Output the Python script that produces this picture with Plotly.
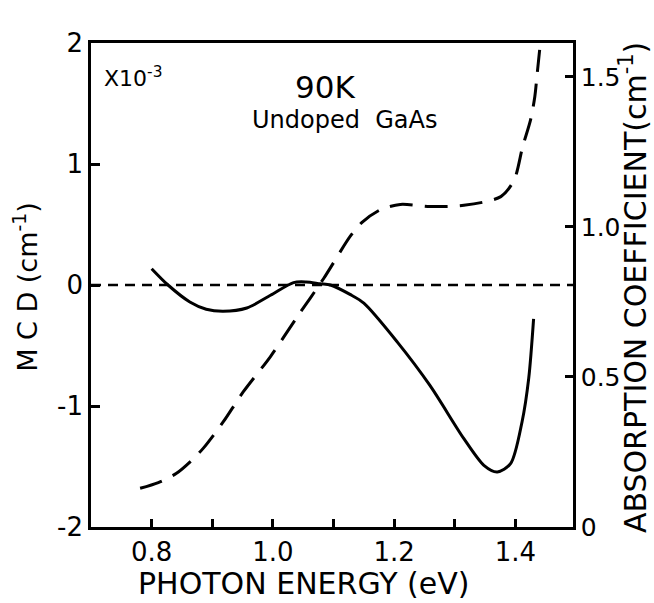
import plotly.graph_objects as go

# MCD (solid) data, x10^-3 cm^-1
mcd_energy = [0.800, 0.827, 0.863, 0.890, 0.918, 0.957, 0.996, 1.034, 1.055, 1.078, 1.095, 1.128, 1.150,
              1.205, 1.259, 1.315, 1.348, 1.370, 1.392, 1.411, 1.422, 1.430]
mcd_value = [0.135, 0.0, -0.14, -0.20, -0.217, -0.19, -0.085, 0.02, 0.025, 0.01, 0.0, -0.08, -0.15,
             -0.47, -0.83, -1.27, -1.49, -1.545, -1.477, -1.13, -0.77, -0.28]

# Absorption coefficient (dashed) data, cm^-1
abs_energy = [0.781, 0.811, 0.841, 0.865, 0.885, 0.918, 0.951, 0.996, 1.040, 1.084, 1.128, 1.147, 1.177, 1.210,
              1.259, 1.315, 1.376, 1.398, 1.412, 1.425, 1.432, 1.436, 1.440]
abs_value = [0.129, 0.148, 0.179, 0.220, 0.262, 0.350, 0.450, 0.568, 0.700, 0.829, 0.970, 1.015, 1.057, 1.075,
             1.068, 1.072, 1.101, 1.157, 1.268, 1.357, 1.434, 1.512, 1.590]

x_range = [0.70, 1.495]
x_ticks = [0.8, 0.9, 1.0, 1.1, 1.2, 1.3, 1.4]
x_ticklabels = ["0.8", " ", "1.0", " ", "1.2", " ", "1.4"]
y_ticks = [-2, -1, 0, 1, 2]
y_ticklabels = ["-2", "-1", "0", "1", "2"]
y2_ticks = [0, 0.5, 1.0, 1.5]
y2_ticklabels = ["0", "0.5", "1.0", "1.5"]

FONT = "DejaVu Sans"

fig = go.Figure()
# zero reference line
fig.add_trace(go.Scatter(x=x_range, y=[0, 0], mode="lines",
                         line=dict(color="black", width=2.5, dash="10px,7px"),
                         showlegend=False, hoverinfo="skip"))
fig.add_trace(go.Scatter(x=mcd_energy, y=mcd_value, mode="lines",
                         line=dict(color="black", width=3, shape="spline", smoothing=0.8),
                         showlegend=False))
fig.add_trace(go.Scatter(x=abs_energy, y=abs_value, mode="lines", yaxis="y2",
                         line=dict(color="black", width=3, dash="23px,12px", shape="spline", smoothing=0.8),
                         showlegend=False))

fig.update_layout(
    template="none",
    width=654, height=603,
    margin=dict(l=91, r=81, t=43, b=76),
    paper_bgcolor="white", plot_bgcolor="white",
    font=dict(family=FONT, color="black"),
    xaxis=dict(range=x_range, tickmode="array", tickvals=x_ticks, ticktext=x_ticklabels,
               ticks="inside", ticklen=8, tickwidth=2.5, tickcolor="black",
               showline=True, linecolor="black", linewidth=2.5, mirror=True,
               showgrid=False, zeroline=False, automargin=False,
               tickfont=dict(size=26, family=FONT)),
    yaxis=dict(range=[-2, 2], tickmode="array", tickvals=y_ticks, ticktext=y_ticklabels,
               ticks="inside", ticklen=9, tickwidth=2.5, tickcolor="black",
               showline=True, linecolor="black", linewidth=2.5,
               showgrid=False, zeroline=False, automargin=False,
               tickfont=dict(size=26, family=FONT)),
    yaxis2=dict(range=[0, 1.613], tickmode="array", tickvals=y2_ticks, ticktext=y2_ticklabels,
                overlaying="y", side="right",
                ticks="inside", ticklen=8, tickwidth=2.5, tickcolor="black",
                showline=True, linecolor="black", linewidth=2.5,
                showgrid=False, zeroline=False, automargin=False,
                tickfont=dict(size=25, family=FONT)),
    annotations=[
        dict(text="PHOTON ENERGY (eV)", xref="paper", yref="paper", x=0.44, y=-0.117,
             xanchor="center", yanchor="middle", showarrow=False, font=dict(size=30, family=FONT)),
        dict(text="M C D (cm<sup>-1</sup>)", xref="paper", yref="paper", x=-0.135, y=0.496,
             textangle=-90, xanchor="center", yanchor="middle", showarrow=False,
             font=dict(size=27, family=FONT)),
        dict(text="ABSORPTION COEFFICIENT(cm<sup>-1</sup>)", xref="paper", yref="paper", x=1.127, y=0.494,
             textangle=-90, xanchor="center", yanchor="middle", showarrow=False,
             font=dict(size=30, family=FONT)),
        dict(text="X10<sup>-3</sup>", xref="paper", yref="paper", x=0.022, y=0.93,
             xanchor="left", yanchor="middle", showarrow=False, font=dict(size=22, family=FONT)),
        dict(text="90K", xref="paper", yref="paper", x=0.485, y=0.909,
             xanchor="center", yanchor="middle", showarrow=False, font=dict(size=31, family=FONT)),
        dict(text="Undoped  GaAs", xref="paper", yref="paper", x=0.525, y=0.841,
             xanchor="center", yanchor="middle", showarrow=False, font=dict(size=24, family=FONT)),
    ],
)

fig.write_html("out.html")
